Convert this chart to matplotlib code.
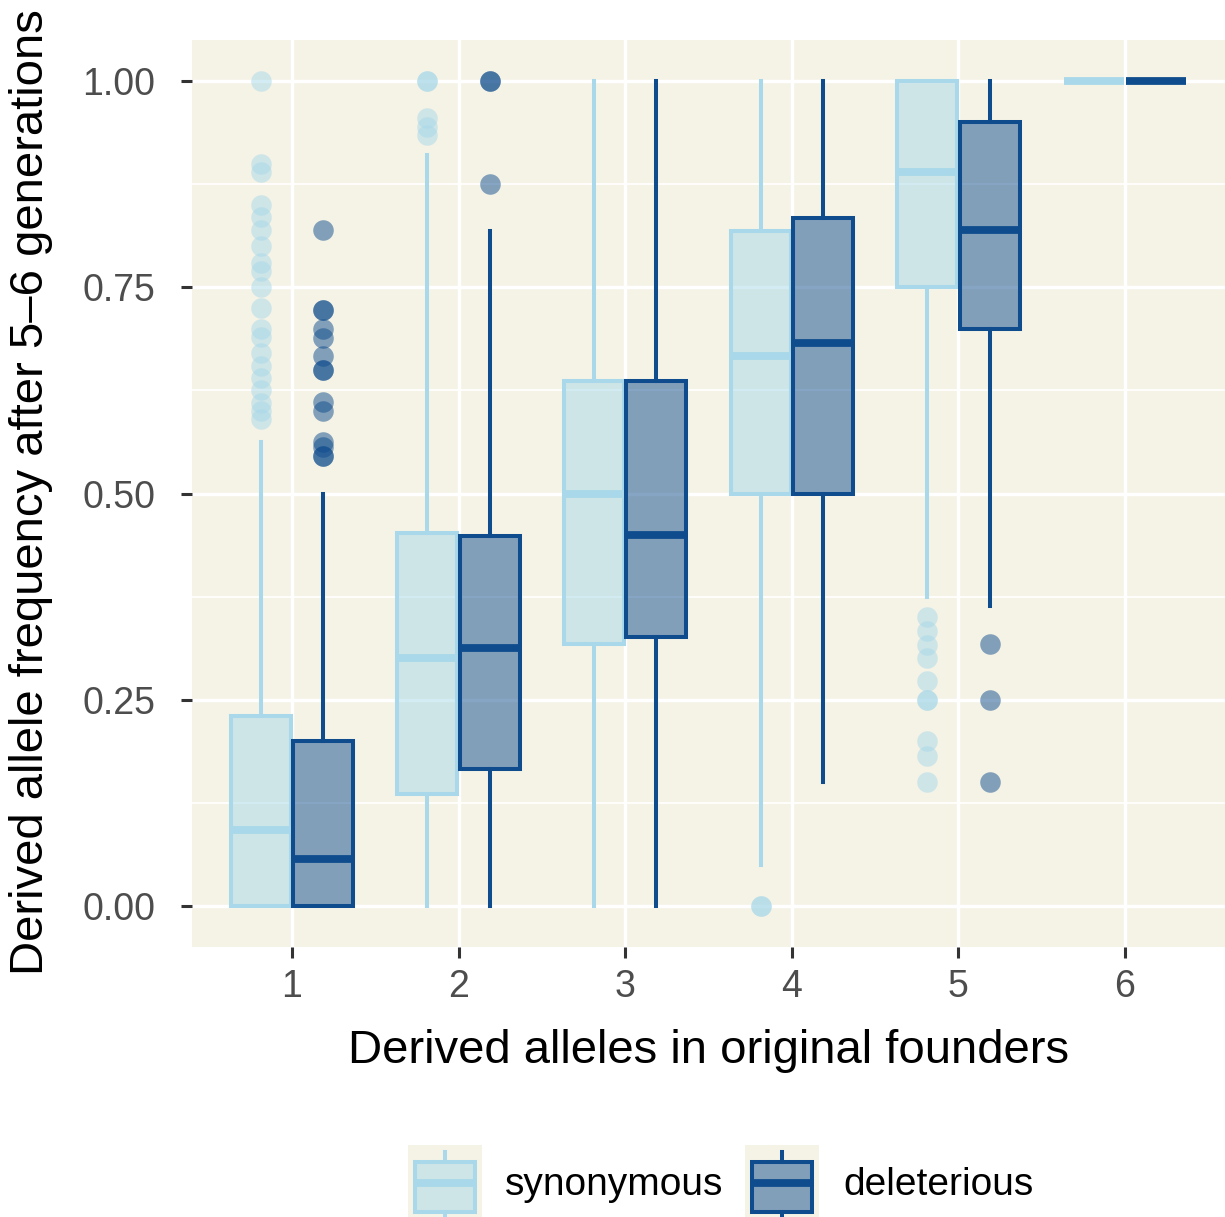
import matplotlib
matplotlib.use("Agg")
import matplotlib.pyplot as plt
from matplotlib.colors import to_rgba
import numpy as np

plt.rcParams['font.family'] = ['Liberation Sans', 'DejaVu Sans']

# ---------------- data ----------------
categories = [1, 2, 3, 4, 5, 6]
y_ticks = [0.0, 0.25, 0.5, 0.75, 1.0]
y_tick_labels = ["0.00", "0.25", "0.50", "0.75", "1.00"]
series_names = ["synonymous", "deleterious"]

syn_q1 = [0.0, 0.135, 0.318, 0.50, 0.75, 1.0]
syn_med = [0.092, 0.30, 0.50, 0.667, 0.89, 1.0]
syn_q3 = [0.23, 0.452, 0.636, 0.818, 1.0, 1.0]
syn_whislo = [0.0, 0.0, 0.0, 0.05, 0.375, 1.0]
syn_whishi = [0.5625, 0.91, 1.0, 1.0, 1.0, 1.0]
syn_fliers = [
    [1.0, 0.90, 0.89, 0.85, 0.835, 0.82, 0.80, 0.78, 0.77, 0.75, 0.725,
     0.70, 0.69, 0.67, 0.655, 0.64, 0.625, 0.61, 0.60, 0.59],
    [1.0, 1.0, 0.955, 0.945, 0.935],
    [],
    [0.0, 0.0],
    [0.35, 0.333, 0.316, 0.30, 0.273, 0.25, 0.25, 0.20, 0.182, 0.15],
    [],
]

del_q1 = [0.0, 0.166, 0.326, 0.50, 0.70, 1.0]
del_med = [0.057, 0.313, 0.45, 0.682, 0.82, 1.0]
del_q3 = [0.20, 0.448, 0.636, 0.834, 0.95, 1.0]
del_whislo = [0.0, 0.0, 0.0, 0.15, 0.364, 1.0]
del_whishi = [0.50, 0.818, 1.0, 1.0, 1.0, 1.0]
del_fliers = [
    [0.82, 0.722, 0.722, 0.70, 0.688, 0.667, 0.65, 0.65, 0.611, 0.60,
     0.563, 0.556, 0.545, 0.545],
    [1.0, 1.0, 0.875],
    [],
    [],
    [0.318, 0.25, 0.15],
    [],
]

# ---------------- style ----------------
SYN_COL = "#A8D8E9"
DEL_COL = "#0F4C8D"
PANEL_BG = "#F5F3E6"
W, H = 1225, 1217
DPI = 100

fig = plt.figure(figsize=(W / DPI, H / DPI), dpi=DPI, facecolor="white")
ax = fig.add_axes([192 / W, 1 - 947 / H, (W - 192) / W, (947 - 40) / H])
ax.set_facecolor(PANEL_BG)


def make_stats(q1, med, q3, lo, hi, fl):
    return [dict(q1=a, med=b, q3=c, whislo=d, whishi=e, fliers=np.array(f))
            for a, b, c, d, e, f in zip(q1, med, q3, lo, hi, fl)]


def draw(axis, stats, positions, col, width):
    axis.bxp(stats, positions=positions, widths=width, patch_artist=True,
             showcaps=False, manage_ticks=False,
             boxprops=dict(facecolor=to_rgba(col, 0.5), edgecolor=col,
                           linewidth=2.9),
             medianprops=dict(color=col, linewidth=5.6,
                              solid_capstyle="butt"),
             whiskerprops=dict(color=col, linewidth=2.9),
             flierprops=dict(marker="o", markerfacecolor=to_rgba(col, 0.5),
                             markeredgecolor="none", markersize=14.8))


dodge = 0.1875
syn_pos = [c - dodge for c in categories]
del_pos = [c + dodge for c in categories]

draw(ax, make_stats(syn_q1, syn_med, syn_q3, syn_whislo, syn_whishi, syn_fliers),
     syn_pos, SYN_COL, 0.36)
draw(ax, make_stats(del_q1, del_med, del_q3, del_whislo, del_whishi, del_fliers),
     del_pos, DEL_COL, 0.36)

ax.set_xlim(0.4, 6.6)
ax.set_ylim(-0.05, 1.05)
ax.set_xticks(categories)
ax.set_xticklabels([str(c) for c in categories])
ax.set_yticks(y_ticks)
ax.set_yticklabels(y_tick_labels)
ax.set_yticks([0.125, 0.375, 0.625, 0.875], minor=True)
ax.set_axisbelow(True)
ax.grid(which="major", color="white", linewidth=2.5)
ax.grid(which="minor", axis="y", color="white", linewidth=1.3)
for s in ax.spines.values():
    s.set_visible(False)
ax.tick_params(which="major", length=8, width=2.2, color="#333333",
               labelcolor="#4D4D4D", labelsize=27)
ax.tick_params(axis="y", pad=18.5)
ax.tick_params(axis="x", pad=8)
ax.tick_params(which="minor", length=0)

# axis titles
fig.text(708.5 / W, 1 - 1063 / H, "Derived alleles in original founders",
         ha="center", va="baseline", fontsize=34, color="black")
fig.text(9 / W, 1 - 492 / H, "Derived allele frequency after 5\u20136 generations",
         ha="left", va="center", rotation=90, fontsize=34, color="black")

# legend
legend_keys = [(408, SYN_COL), (745, DEL_COL)]
legend_text_x = [505, 843]
for (kx, col), tx, name in zip(legend_keys, legend_text_x, series_names):
    kax = fig.add_axes([kx / W, 0, 74 / W, 72 / H])
    kax.set_facecolor(PANEL_BG)
    kax.set_xlim(0, 1)
    kax.set_ylim(0, 1)
    kax.set_xticks([])
    kax.set_yticks([])
    for s in kax.spines.values():
        s.set_visible(False)
    key_stats = [dict(q1=0.069, med=0.47, q3=0.764, whislo=-0.1, whishi=0.9,
                      fliers=np.array([]))]
    draw(kax, key_stats, [0.5], col, 0.82)
    fig.text(tx / W, 1 - 1195 / H, name, ha="left", va="baseline",
             fontsize=28, color="black")

fig.savefig("out.png", dpi=DPI, facecolor="white")
